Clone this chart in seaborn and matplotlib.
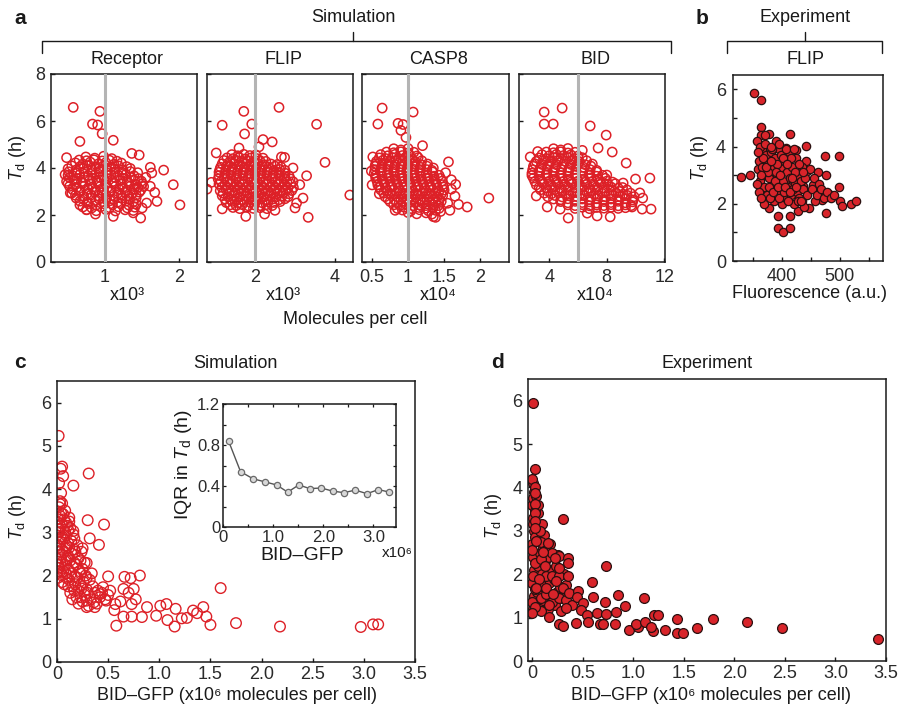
import matplotlib
matplotlib.use("Agg")
import matplotlib.pyplot as plt
import seaborn as sns
from matplotlib.lines import Line2D
from matplotlib.ticker import FixedLocator

# ---------------- DATA ----------------
# Panel a: simulation, Td (h) vs molecules per cell
receptor_pts = [
    (0.74,4.47),(0.86,4.42),(0.98,4.5),(1.09,4.4),
    (0.6,4.22),(0.7,4.17),(0.8,4.25),(0.91,4.18),(1.01,4.23),(1.12,4.16),(1.22,4.21),
    (0.5,3.97),(0.61,3.92),(0.71,3.99),(0.82,3.93),(0.92,3.98),(1.03,3.91),(1.13,3.96),(1.24,3.93),(1.34,3.98),
    (0.46,3.72),(0.56,3.67),(0.66,3.73),(0.77,3.68),(0.87,3.74),(0.97,3.66),(1.08,3.72),(1.18,3.69),(1.28,3.73),(1.39,3.67),
    (0.48,3.43),(0.58,3.48),(0.68,3.42),(0.79,3.47),(0.89,3.44),(0.99,3.49),(1.1,3.42),(1.2,3.47),(1.3,3.43),(1.4,3.48),(1.49,3.44),
    (0.52,3.22),(0.62,3.17),(0.72,3.23),(0.83,3.18),(0.93,3.21),(1.03,3.16),(1.14,3.22),(1.24,3.18),(1.34,3.23),(1.44,3.17),(1.52,3.21),
    (0.55,2.93),(0.66,2.98),(0.76,2.92),(0.86,2.97),(0.96,2.94),(1.07,2.99),(1.17,2.92),(1.27,2.96),(1.37,2.93),(1.46,2.97),
    (0.61,2.72),(0.71,2.67),(0.81,2.73),(0.92,2.68),(1.02,2.71),(1.12,2.66),(1.23,2.72),(1.33,2.68),(1.42,2.73),
    (0.66,2.43),(0.77,2.48),(0.88,2.42),(0.99,2.47),(1.1,2.44),(1.21,2.48),(1.32,2.42),(1.42,2.46),
    (0.75,2.22),(0.88,2.18),(1.01,2.23),(1.14,2.17),(1.27,2.22),(1.38,2.19),
    (0.65,4.34),(0.75,4.31),(0.85,4.35),(0.96,4.3),(1.06,4.33),(1.16,4.29),
    (0.55,4.09),(0.66,4.06),(0.76,4.1),(0.87,4.05),(0.97,4.08),(1.08,4.04),(1.18,4.09),(1.29,4.06),
    (0.51,3.84),(0.61,3.8),(0.72,3.85),(0.82,3.81),(0.92,3.86),(1.02,3.8),(1.13,3.84),(1.23,3.81),(1.34,3.85),(1.44,3.8),
    (0.52,3.59),(0.62,3.55),(0.72,3.6),(0.83,3.56),(0.93,3.61),(1.03,3.55),(1.14,3.59),(1.24,3.56),(1.35,3.6),(1.45,3.55),
    (0.5,3.34),(0.6,3.3),(0.7,3.35),(0.81,3.31),(0.91,3.36),(1.01,3.3),(1.12,3.34),(1.22,3.31),(1.32,3.35),(1.42,3.3),(1.5,3.33),
    (0.56,3.09),(0.66,3.05),(0.77,3.1),(0.87,3.06),(0.98,3.11),(1.08,3.05),(1.19,3.09),(1.29,3.06),(1.39,3.1),(1.48,3.05),
    (0.6,2.84),(0.71,2.8),(0.81,2.85),(0.91,2.81),(1.01,2.86),(1.12,2.8),(1.22,2.84),(1.32,2.81),(1.42,2.85),
    (0.66,2.59),(0.76,2.55),(0.87,2.6),(0.97,2.56),(1.07,2.61),(1.17,2.55),(1.28,2.59),(1.38,2.56),
    (0.7,2.34),(0.82,2.3),(0.94,2.35),(1.06,2.31),(1.18,2.35),(1.3,2.3),(1.4,2.33),
    (0.57,6.58),(0.93,6.41),(0.83,5.87),(0.9,5.83),(0.96,5.46),(1.11,5.18),(0.66,5.13),
    (0.48,4.44),(1.36,4.62),(1.46,4.55),(1.79,3.91),(1.61,4.03),(1.63,3.79),(1.92,3.29),
    (2.01,2.43),(1.48,1.87),(1.11,1.94),(0.87,2.04),(1.67,2.96),(1.7,2.58),(0.5,3.69),
    (0.53,2.94),(0.75,2.23),(1.38,2.09),(1.56,2.51),(1.61,3.22),(1.55,3.6),(1.5,2.3),
]
flip_pts = [
    (1.42,4.57),(1.57,4.52),(1.72,4.58),(1.87,4.53),(2.02,4.56),
    (1.22,4.32),(1.37,4.27),(1.52,4.33),(1.67,4.28),(1.82,4.31),(1.97,4.26),(2.12,4.32),(2.27,4.28),
    (1.14,4.03),(1.29,4.08),(1.44,4.02),(1.59,4.07),(1.74,4.04),(1.89,4.09),(2.04,4.02),(2.19,4.06),(2.34,4.03),(2.5,4.08),(2.65,4.04),
    (1.1,3.82),(1.25,3.77),(1.4,3.83),(1.55,3.78),(1.7,3.81),(1.85,3.76),(2.0,3.82),(2.15,3.78),(2.3,3.83),(2.45,3.77),(2.6,3.81),(2.75,3.78),
    (1.08,3.53),(1.23,3.58),(1.38,3.52),(1.53,3.57),(1.68,3.54),(1.83,3.59),(1.98,3.52),(2.13,3.56),(2.28,3.53),(2.43,3.58),(2.58,3.52),(2.73,3.57),(2.88,3.54),
    (1.1,3.32),(1.25,3.27),(1.4,3.33),(1.55,3.28),(1.7,3.31),(1.85,3.26),(2.0,3.32),(2.15,3.28),(2.3,3.33),(2.45,3.27),(2.6,3.31),(2.75,3.28),(2.9,3.32),
    (1.13,3.03),(1.28,3.08),(1.43,3.02),(1.58,3.07),(1.73,3.04),(1.88,3.09),(2.03,3.02),(2.18,3.06),(2.33,3.03),(2.48,3.08),(2.63,3.02),(2.78,3.07),(2.92,3.04),
    (1.18,2.82),(1.33,2.77),(1.48,2.83),(1.63,2.78),(1.78,2.81),(1.93,2.76),(2.08,2.82),(2.23,2.78),(2.38,2.83),(2.53,2.77),(2.68,2.81),(2.83,2.78),
    (1.28,2.53),(1.43,2.58),(1.58,2.52),(1.73,2.57),(1.88,2.54),(2.03,2.59),(2.18,2.52),(2.33,2.56),(2.48,2.53),(2.63,2.57),
    (1.45,2.32),(1.62,2.27),(1.79,2.33),(1.96,2.28),(2.13,2.31),(2.3,2.27),
    (1.3,4.43),(1.45,4.4),(1.6,4.44),(1.75,4.39),(1.9,4.43),(2.05,4.4),(2.2,4.42),
    (1.18,4.18),(1.33,4.15),(1.48,4.19),(1.63,4.14),(1.78,4.18),(1.93,4.15),(2.08,4.19),(2.23,4.14),(2.4,4.17),(2.56,4.15),
    (1.12,3.93),(1.27,3.9),(1.42,3.94),(1.57,3.89),(1.72,3.93),(1.87,3.9),(2.02,3.94),(2.17,3.89),(2.32,3.93),(2.47,3.9),(2.62,3.94),(2.75,3.9),
    (1.1,3.68),(1.25,3.65),(1.4,3.69),(1.55,3.64),(1.7,3.68),(1.85,3.65),(2.0,3.69),(2.15,3.64),(2.3,3.68),(2.45,3.65),(2.6,3.69),(2.75,3.64),(2.85,3.67),
    (1.15,3.43),(1.3,3.4),(1.45,3.44),(1.6,3.39),(1.75,3.43),(1.9,3.4),(2.05,3.44),(2.2,3.39),(2.35,3.43),(2.5,3.4),(2.65,3.44),(2.8,3.39),(2.95,3.42),
    (1.17,3.18),(1.32,3.15),(1.47,3.19),(1.62,3.14),(1.77,3.18),(1.92,3.15),(2.07,3.19),(2.22,3.14),(2.37,3.18),(2.52,3.15),(2.67,3.19),(2.82,3.14),(2.96,3.17),
    (1.2,2.93),(1.35,2.9),(1.5,2.94),(1.65,2.89),(1.8,2.93),(1.95,2.9),(2.1,2.94),(2.25,2.89),(2.4,2.93),(2.55,2.9),(2.7,2.94),(2.85,2.9),
    (1.25,2.68),(1.4,2.65),(1.55,2.69),(1.7,2.64),(1.85,2.68),(2.0,2.65),(2.15,2.69),(2.3,2.64),(2.45,2.68),(2.6,2.65),(2.75,2.69),
    (1.38,2.43),(1.53,2.4),(1.68,2.44),(1.83,2.39),(1.98,2.43),(2.13,2.4),(2.28,2.44),(2.43,2.4),
    (1.72,6.41),(2.6,6.58),(1.18,5.82),(1.92,5.87),(1.74,5.45),(2.2,5.21),(2.43,5.11),
    (3.54,5.86),(3.75,4.24),(4.37,2.85),(0.8,3.1),(0.91,3.39),(3.33,1.9),(3.2,2.72),
    (3.29,3.67),(3.04,2.51),(2.66,4.47),(2.74,4.45),(1.18,2.26),(2.24,2.04),(1.77,1.94),
    (1.03,4.64),(2.95,4.0),(3.12,3.29),(1.6,4.85),(2.1,4.9),(3.0,2.3),(2.5,2.2),
]
casp8_pts = [
    (0.8,4.82),(0.9,4.77),(1.0,4.83),
    (0.62,4.57),(0.72,4.52),(0.82,4.58),(0.92,4.53),(1.02,4.56),(1.12,4.51),
    (0.56,4.28),(0.65,4.33),(0.74,4.27),(0.83,4.32),(0.92,4.29),(1.01,4.34),(1.1,4.27),(1.19,4.31),
    (0.54,4.07),(0.63,4.02),(0.72,4.08),(0.81,4.03),(0.9,4.06),(0.99,4.01),(1.08,4.07),(1.17,4.03),(1.26,4.08),
    (0.53,3.78),(0.62,3.83),(0.71,3.77),(0.8,3.82),(0.89,3.79),(0.98,3.84),(1.07,3.77),(1.16,3.81),(1.25,3.78),(1.34,3.83),
    (0.55,3.57),(0.64,3.52),(0.73,3.58),(0.82,3.53),(0.91,3.56),(1.0,3.51),(1.09,3.57),(1.18,3.53),(1.27,3.58),(1.36,3.52),(1.45,3.56),
    (0.58,3.28),(0.67,3.33),(0.76,3.27),(0.85,3.32),(0.94,3.29),(1.03,3.34),(1.12,3.27),(1.21,3.31),(1.3,3.28),(1.39,3.33),(1.48,3.29),
    (0.62,3.07),(0.71,3.02),(0.8,3.08),(0.89,3.03),(0.98,3.06),(1.07,3.01),(1.16,3.07),(1.25,3.03),(1.34,3.08),(1.43,3.02),(1.5,3.06),
    (0.68,2.78),(0.77,2.83),(0.86,2.77),(0.95,2.82),(1.04,2.79),(1.13,2.84),(1.22,2.77),(1.31,2.81),(1.4,2.78),(1.48,2.83),
    (0.75,2.57),(0.84,2.52),(0.93,2.58),(1.02,2.53),(1.11,2.56),(1.2,2.51),(1.29,2.57),(1.38,2.53),(1.46,2.58),
    (0.85,2.28),(0.95,2.33),(1.05,2.27),(1.15,2.32),(1.25,2.29),(1.35,2.33),(1.43,2.28),
    (1.0,2.1),(1.12,2.05),(1.25,2.09),(1.33,2.04),
    (0.7,4.68),(0.8,4.65),(0.9,4.69),(1.0,4.64),(1.08,4.67),
    (0.6,4.43),(0.69,4.4),(0.78,4.44),(0.87,4.39),(0.96,4.43),(1.05,4.4),(1.14,4.44),
    (0.55,4.18),(0.64,4.15),(0.73,4.19),(0.82,4.14),(0.91,4.18),(1.0,4.15),(1.09,4.19),(1.18,4.14),(1.27,4.17),
    (0.54,3.93),(0.63,3.9),(0.72,3.94),(0.81,3.89),(0.9,3.93),(0.99,3.9),(1.08,3.94),(1.17,3.89),(1.26,3.93),(1.33,3.9),
    (0.55,3.68),(0.64,3.65),(0.73,3.69),(0.82,3.64),(0.91,3.68),(1.0,3.65),(1.09,3.69),(1.18,3.64),(1.27,3.68),(1.36,3.65),(1.43,3.69),
    (0.57,3.43),(0.66,3.4),(0.75,3.44),(0.84,3.39),(0.93,3.43),(1.02,3.4),(1.11,3.44),(1.2,3.39),(1.29,3.43),(1.38,3.4),(1.47,3.44),
    (0.6,3.18),(0.69,3.15),(0.78,3.19),(0.87,3.14),(0.96,3.18),(1.05,3.15),(1.14,3.19),(1.23,3.14),(1.32,3.18),(1.41,3.15),(1.49,3.19),
    (0.66,2.93),(0.75,2.9),(0.84,2.94),(0.93,2.89),(1.02,2.93),(1.11,2.9),(1.2,2.94),(1.29,2.89),(1.38,2.93),(1.46,2.9),
    (0.72,2.68),(0.81,2.65),(0.9,2.69),(0.99,2.64),(1.08,2.68),(1.17,2.65),(1.26,2.69),(1.35,2.64),(1.43,2.68),
    (0.8,2.43),(0.89,2.4),(0.98,2.44),(1.07,2.39),(1.16,2.43),(1.25,2.4),(1.34,2.44),(1.42,2.4),
    (0.92,2.21),(1.04,2.18),(1.16,2.22),(1.28,2.18),(1.38,2.2),
    (0.64,6.55),(1.07,6.38),(0.58,5.87),(0.86,5.9),(0.93,5.85),(0.9,5.6),(0.97,5.3),
    (1.2,4.95),(0.49,3.87),(0.5,3.28),(0.51,4.47),(0.82,2.2),(1.35,1.93),(1.38,1.9),
    (1.56,4.26),(2.12,2.72),(1.82,2.34),(1.6,3.1),(1.65,2.8),(1.55,2.5),(1.7,2.45),
    (1.45,2.15),(1.6,3.5),(1.52,3.8),(1.35,4.0),(0.6,2.9),(1.58,2.2),(1.66,3.3),
]
bid_pts = [
    (4.3,4.82),(4.8,4.77),(5.3,4.83),
    (3.5,4.57),(4.0,4.52),(4.5,4.58),(5.0,4.53),(5.5,4.56),(6.0,4.51),
    (3.1,4.28),(3.6,4.33),(4.1,4.27),(4.6,4.32),(5.1,4.29),(5.6,4.34),(6.1,4.27),(6.6,4.31),
    (2.9,4.07),(3.4,4.02),(3.9,4.08),(4.4,4.03),(4.9,4.06),(5.4,4.01),(5.9,4.07),(6.4,4.03),(6.9,4.08),
    (2.8,3.78),(3.3,3.83),(3.8,3.77),(4.3,3.82),(4.8,3.79),(5.3,3.84),(5.8,3.77),(6.3,3.81),(6.8,3.78),(7.3,3.83),
    (2.9,3.57),(3.4,3.52),(3.9,3.58),(4.4,3.53),(4.9,3.56),(5.4,3.51),(5.9,3.57),(6.4,3.53),(6.9,3.58),(7.4,3.52),(7.9,3.56),
    (3.1,3.28),(3.6,3.33),(4.1,3.27),(4.6,3.32),(5.1,3.29),(5.6,3.34),(6.1,3.27),(6.6,3.31),(7.1,3.28),(7.6,3.33),(8.1,3.29),(8.6,3.33),
    (3.4,3.07),(3.9,3.02),(4.4,3.08),(4.9,3.03),(5.4,3.06),(5.9,3.01),(6.4,3.07),(6.9,3.03),(7.4,3.08),(7.9,3.02),(8.4,3.06),(8.9,3.01),(9.4,3.07),
    (3.9,2.78),(4.4,2.83),(4.9,2.77),(5.4,2.82),(5.9,2.79),(6.4,2.84),(6.9,2.77),(7.4,2.81),(7.9,2.78),(8.4,2.83),(8.9,2.79),(9.4,2.84),(9.9,2.78),
    (4.8,2.57),(5.3,2.52),(5.8,2.58),(6.3,2.53),(6.8,2.56),(7.3,2.51),(7.8,2.57),(8.3,2.53),(8.8,2.58),(9.3,2.52),(9.8,2.56),
    (5.8,2.28),(6.3,2.33),(6.8,2.27),(7.3,2.32),(7.8,2.29),(8.3,2.33),(8.8,2.28),(9.3,2.31),
    (3.8,4.68),(4.3,4.65),(4.8,4.69),(5.3,4.64),(5.8,4.67),
    (3.3,4.43),(3.8,4.4),(4.3,4.44),(4.8,4.39),(5.3,4.43),(5.8,4.4),(6.3,4.44),
    (3.0,4.18),(3.5,4.15),(4.0,4.19),(4.5,4.14),(5.0,4.18),(5.5,4.15),(6.0,4.19),(6.5,4.14),(7.0,4.17),
    (2.85,3.93),(3.35,3.9),(3.85,3.94),(4.35,3.89),(4.85,3.93),(5.35,3.9),(5.85,3.94),(6.35,3.89),(6.85,3.93),(7.3,3.9),
    (2.8,3.68),(3.3,3.65),(3.8,3.69),(4.3,3.64),(4.8,3.68),(5.3,3.65),(5.8,3.69),(6.3,3.64),(6.8,3.68),(7.3,3.65),(7.7,3.69),
    (3.0,3.43),(3.5,3.4),(4.0,3.44),(4.5,3.39),(5.0,3.43),(5.5,3.4),(6.0,3.44),(6.5,3.39),(7.0,3.43),(7.5,3.4),(8.0,3.44),(8.4,3.4),
    (3.3,3.18),(3.8,3.15),(4.3,3.19),(4.8,3.14),(5.3,3.18),(5.8,3.15),(6.3,3.19),(6.8,3.14),(7.3,3.18),(7.8,3.15),(8.3,3.19),(8.8,3.14),(9.1,3.17),
    (3.65,2.93),(4.15,2.9),(4.65,2.94),(5.15,2.89),(5.65,2.93),(6.15,2.9),(6.65,2.94),(7.15,2.89),(7.65,2.93),(8.15,2.9),(8.65,2.94),(9.15,2.89),(9.65,2.93),
    (4.3,2.68),(4.8,2.65),(5.3,2.69),(5.8,2.64),(6.3,2.68),(6.8,2.65),(7.3,2.69),(7.8,2.64),(8.3,2.68),(8.8,2.65),(9.3,2.69),(9.8,2.64),
    (5.3,2.43),(5.8,2.4),(6.3,2.44),(6.8,2.39),(7.3,2.43),(7.8,2.4),(8.3,2.44),(8.8,2.39),(9.3,2.43),(9.7,2.4),
    (3.65,6.38),(4.9,6.55),(3.65,5.87),(4.28,5.87),(6.85,5.79),(7.96,5.4),(8.38,4.68),
    (7.4,4.85),(9.35,4.21),(11.0,3.57),(10.0,3.53),(2.68,4.47),(3.1,2.81),(3.86,2.34),
    (5.32,1.87),(7.33,1.96),(8.24,1.92),(11.08,2.25),(10.46,2.25),(10.5,2.72),(10.3,2.94),
    (9.76,2.34),(9.14,3.36),(4.76,2.25),(6.64,2.08),(3.2,4.7),(6.3,4.75),(8.0,3.7),
]
# Panel b: experiment, Td (h) vs FLIP fluorescence (a.u.)
flip_exp_pts = [
    (351,5.86),(364,5.61),(364,4.69),(364,4.42),(377,4.43),(413,4.43),(442,4.01),
    (390,4.19),(357,4.19),(406,3.95),(425,3.89),(474,3.68),(499,3.68),(329,2.92),
    (345,3.02),(442,3.49),(443,3.16),(462,3.1),(477,3.02),(498,2.58),(482,2.34),
    (500,2.08),(504,1.91),(519,2.0),(529,2.08),(477,1.67),(446,1.85),(393,1.58),
    (414,1.58),(393,1.17),(401,1.01),(414,1.17),(427,1.75),(377,1.85),(469,2.14),
    (457,2.08),(434,2.08),(420,2.37),(437,2.61),(454,2.67),(466,2.44),
    (358,3.2),(360,3.5),(362,2.8),(365,3.9),(366,3.3),(368,2.6),(370,3.0),(372,3.7),
    (374,2.3),(376,3.4),(378,2.9),(380,3.8),(382,2.5),(384,3.2),(386,2.1),(388,3.6),
    (390,2.7),(392,3.0),(394,3.9),(396,2.4),(398,3.3),(400,2.0),(402,2.8),(404,3.5),
    (406,2.2),(408,3.1),(410,2.6),(412,3.8),(414,2.9),(416,2.3),(418,3.3),(420,2.0),
    (422,2.7),(424,3.6),(426,2.4),(428,3.0),(430,2.2),(432,2.8),(434,3.3),(436,2.5),
    (438,1.9),(440,2.9),(444,2.3),(448,3.2),(452,2.5),(456,2.9),(460,2.3),(464,2.7),
    (468,2.5),(472,2.2),(478,2.4),(484,2.2),(490,2.3),(362,4.0),(367,3.6),(371,4.1),
    (375,3.1),(379,2.2),(383,3.9),(387,2.8),(391,3.4),(395,2.2),(399,3.7),(403,2.4),
    (407,3.9),(411,2.1),(415,3.6),(419,2.5),(423,3.1),(427,2.1),(360,2.4),(363,3.0),
    (369,2.0),(373,3.3),(377,2.6),(381,3.5),(385,2.4),(389,3.1),(393,2.6),(397,3.0),
    (401,3.6),(405,2.6),(409,3.4),(413,2.4),(417,2.9),(421,3.9),(425,2.6),(429,3.4),
    (433,2.1),(437,3.1),(356,2.7),(359,3.8),(364,2.2),(370,4.4),(380,4.0),(395,4.1),
]
# Panel c: simulation, Td (h) vs BID-GFP (x1e6 molecules per cell)
sim_bid_pts = [
    (0.01,1.95),(0.03,2.1),(0.01,2.25),(0.04,2.4),(0.02,2.55),(0.01,2.7),(0.04,2.85),
    (0.02,3.0),(0.03,3.15),(0.01,3.3),(0.04,3.45),(0.02,3.58),
    (0.07,1.8),(0.09,1.95),(0.06,2.1),(0.08,2.25),(0.1,2.4),(0.07,2.55),(0.09,2.7),
    (0.06,2.85),(0.08,3.0),(0.1,3.15),(0.07,3.3),(0.06,3.42),
    (0.13,1.6),(0.15,1.75),(0.12,1.9),(0.14,2.05),(0.16,2.2),(0.13,2.35),(0.15,2.5),
    (0.12,2.65),(0.14,2.8),(0.16,2.95),(0.13,3.1),(0.12,3.25),
    (0.19,1.5),(0.21,1.65),(0.18,1.8),(0.2,1.95),(0.22,2.1),(0.19,2.25),(0.21,2.4),
    (0.18,2.55),(0.2,2.7),
    (0.25,1.4),(0.27,1.55),(0.24,1.7),(0.26,1.85),(0.28,2.0),(0.25,2.15),(0.27,2.3),(0.24,2.55),
    (0.31,1.3),(0.33,1.45),(0.3,1.6),(0.35,1.75),(0.32,1.9),(0.34,2.05),
    (0.39,1.35),(0.42,1.5),(0.44,1.6),(0.47,1.45),(0.4,1.65),(0.5,1.55),
    (0.0,2.05),(0.02,2.18),(0.0,2.33),(0.03,2.48),(0.0,2.63),(0.03,2.78),(0.0,2.93),
    (0.02,3.08),(0.0,3.23),(0.03,3.38),(0.05,2.0),(0.05,2.3),(0.05,2.6),(0.05,2.9),
    (0.05,3.2),(0.09,2.05),(0.09,2.35),(0.09,2.63),(0.09,2.93),(0.09,3.22),(0.11,1.75),
    (0.11,2.15),(0.11,2.45),(0.11,2.75),(0.11,3.05),(0.17,1.65),(0.17,1.98),(0.17,2.3),
    (0.17,2.6),(0.17,2.85),(0.23,1.5),(0.23,1.78),(0.23,2.05),(0.23,2.35),(0.29,1.42),
    (0.29,1.68),(0.29,1.95),(0.36,1.38),(0.37,1.6),(0.05,1.85),(0.15,1.45),(0.21,1.35),
    (0.08,3.5),(0.03,3.65),
    (0.016,5.23),(0.036,4.47),(0.05,4.52),(0.06,4.3),(0.02,4.14),(0.16,4.08),(0.31,4.36),
    (0.04,3.91),(0.03,3.72),(0.05,3.67),(0.3,3.28),(0.46,3.18),(0.32,2.86),(0.41,2.71),
    (0.25,2.63),(0.16,3.03),(0.12,3.34),(0.29,2.29),(0.5,1.98),(0.66,1.97),(0.72,1.94),
    (0.81,2.0),(0.65,1.69),(0.75,1.69),(0.73,1.34),(1.6,1.71),(0.57,1.34),(0.58,0.84),
    (0.65,1.05),(0.73,1.05),(0.83,1.04),(0.88,1.27),(0.97,1.07),(1.01,1.3),(1.07,1.34),
    (1.08,0.97),(1.16,1.23),(1.15,0.82),(1.22,1.01),(1.27,1.02),(1.33,1.19),(1.37,1.13),
    (1.43,1.27),(1.46,1.05),(1.5,0.86),(1.75,0.9),(2.18,0.82),(2.97,0.81),(3.09,0.87),
    (3.14,0.87),(0.37,1.27),(0.29,1.27),(0.42,1.57),(0.52,1.65),(0.45,1.73),(0.48,1.42),
    (0.7,1.6),(0.77,1.45),(0.62,1.4),(0.56,1.2),
]
# inset of panel c: IQR in Td vs BID-GFP
iqr_x = [0.11, 0.35, 0.6, 0.84, 1.07, 1.29, 1.51, 1.73, 1.96, 2.19, 2.41, 2.64, 2.87, 3.1, 3.32]
iqr_y = [0.84, 0.54, 0.47, 0.44, 0.41, 0.34, 0.41, 0.375, 0.38, 0.35, 0.335, 0.36, 0.325, 0.365, 0.34]
# Panel d: experiment, Td (h) vs BID-GFP (x1e6 molecules per cell)
exp_bid_pts = [
    (0.01,1.2),(0.02,1.5),(0.0,1.8),(0.02,2.1),(0.01,2.4),(0.0,2.7),(0.02,3.0),(0.01,3.3),
    (0.0,3.6),(0.02,3.9),(0.01,4.1),
    (0.06,1.3),(0.05,1.6),(0.07,1.9),(0.06,2.2),(0.08,2.5),(0.05,2.8),(0.07,3.1),(0.06,3.4),
    (0.11,1.4),(0.12,1.7),(0.1,2.0),(0.13,2.3),(0.11,2.6),(0.12,2.9),(0.1,3.15),
    (0.16,1.2),(0.18,1.5),(0.17,1.8),(0.19,2.1),(0.16,2.4),(0.18,2.7),
    (0.23,1.3),(0.25,1.6),(0.22,1.9),(0.24,2.2),(0.26,2.45),
    (0.29,1.15),(0.3,1.45),(0.28,1.7),(0.32,2.0),
    (0.0,1.35),(0.03,1.65),(0.01,1.95),(0.03,2.25),(0.0,2.55),(0.03,2.85),(0.01,3.15),
    (0.03,3.45),(0.01,3.75),(0.09,1.15),(0.09,1.45),(0.09,1.75),(0.09,2.35),(0.09,2.75),
    (0.14,1.55),(0.14,1.95),(0.14,2.55),(0.2,1.35),(0.2,1.95),(0.2,2.5),(0.27,1.45),
    (0.27,1.95),(0.34,1.4),(0.34,1.75),(0.4,1.3),(0.42,1.55),(0.06,3.6),(0.04,3.8),(0.08,3.0),
    (0.01,5.95),(0.03,4.43),(0.0,4.19),(0.03,4.02),(0.03,3.87),(0.03,3.62),(0.03,3.41),
    (0.31,3.28),(0.03,3.22),(0.03,3.06),(0.04,2.77),(0.16,2.73),(0.11,2.52),(0.27,2.41),
    (0.36,2.37),(0.36,2.25),(0.23,2.37),(0.27,2.15),(0.13,2.18),(0.73,2.18),(0.36,1.97),
    (0.24,1.85),(0.07,1.88),(0.59,1.82),(0.14,1.68),(0.04,1.68),(0.31,1.68),(0.37,1.56),
    (0.45,1.62),(0.21,1.54),(0.44,1.47),(0.6,1.47),(0.72,1.37),(0.85,1.51),(1.11,1.46),
    (0.92,1.27),(0.5,1.33),(0.17,1.28),(0.03,1.25),(0.0,1.1),(0.17,1.02),(0.34,1.22),
    (0.48,1.18),(0.54,1.06),(0.64,1.1),(0.73,1.08),(0.83,1.12),(0.27,0.85),(0.31,0.81),
    (0.43,0.87),(0.55,0.91),(0.67,0.85),(0.7,0.85),(0.82,0.85),(0.96,0.72),(1.05,0.78),
    (1.03,0.85),(1.12,0.91),(1.2,0.68),(1.18,0.78),(1.21,1.06),(1.25,1.06),(1.31,0.72),
    (1.43,0.96),(1.43,0.65),(1.49,0.65),(1.63,0.77),(1.79,0.96),(2.13,0.91),(2.47,0.77),
    (3.42,0.51),
]

panel_a_names = ["Receptor", "FLIP", "CASP8", "BID"]
panel_a_data = [receptor_pts, flip_pts, casp8_pts, bid_pts]
panel_a_xlim = [(0.27, 2.24), (0.8, 4.45), (0.36, 2.4), (1.9, 12.05)]
panel_a_xticks = [[1, 2], [2, 4], [0.5, 1, 1.5, 2], [4, 8, 12]]
panel_a_xticklabels = [["1", "2"], ["2", "4"], ["0.5", "1", "1.5", "2"], ["4", "8", "12"]]
panel_a_mean = [1, 2, 1, 6]
panel_a_scale = ["x10\u00b3", "x10\u00b3", "x10\u2074", "x10\u2074"]

# ---------------- STYLE ----------------
sns.set_style("ticks")
plt.rcParams.update({
    "font.family": ["Liberation Sans", "DejaVu Sans"],
    "mathtext.fontset": "custom",
    "mathtext.rm": "Liberation Sans",
    "mathtext.it": "Liberation Sans:italic",
    "mathtext.bf": "Liberation Sans:bold",
    "xtick.direction": "in",
    "ytick.direction": "in",
    "axes.edgecolor": "#1a1a1a",
    "axes.linewidth": 1.1,
    "xtick.color": "#1a1a1a",
    "ytick.color": "#1a1a1a",
    "text.color": "#1a1a1a",
    "xtick.labelcolor": "#2a2a2a",
    "ytick.labelcolor": "#2a2a2a",
})

RED = "#dd2027"
FILL = "#d8242a"
GRAY = "#b4b4b4"
W, H = 898, 705
fig = plt.figure(figsize=(W / 100, H / 100), dpi=100)


def add_ax(l, r, t, b):
    return fig.add_axes([l / W, 1 - b / H, (r - l) / W, (b - t) / H])


def ftext(x, y, s, size=13, **kw):
    kw.setdefault("ha", "center")
    kw.setdefault("va", "center")
    fig.text(x / W, 1 - y / H, s, fontsize=size, **kw)


def fline(xs, ys):
    fig.add_artist(Line2D([x / W for x in xs], [1 - y / H for y in ys],
                          transform=fig.transFigure, color="#1a1a1a", lw=1.0))


def style_ticks(ax, size=13, length=3.2, pad=4):
    ax.tick_params(axis="both", which="major", length=length, width=1.0,
                   labelsize=size, pad=pad, top=False, right=False)
    ax.tick_params(axis="both", which="minor", length=length * 0.8, width=1.0,
                   top=False, right=False)


TD = r"$T_{\mathrm{d}}$ (h)"

# ---------------- PANEL a ----------------
lefts = [(51, 197), (207, 353), (362, 509), (519, 665)]
for i, (l, r) in enumerate(lefts):
    ax = add_ax(l, r, 74, 262)
    pts = panel_a_data[i]
    xs = [p[0] for p in pts]
    ys = [p[1] for p in pts]
    sns.scatterplot(x=xs, y=ys, ax=ax, s=44, facecolor="none", edgecolor=RED,
                    linewidth=1.1, zorder=2)
    ax.axvline(panel_a_mean[i], color=GRAY, lw=2.2, zorder=3)
    ax.set_xlim(*panel_a_xlim[i])
    ax.set_ylim(0, 8)
    ax.xaxis.set_major_locator(FixedLocator(panel_a_xticks[i]))
    ax.set_xticklabels(panel_a_xticklabels[i])
    ax.yaxis.set_major_locator(FixedLocator([0, 2, 4, 6, 8]))
    if i == 0:
        ax.set_yticklabels(["0", "2", "4", "6", "8"])
    else:
        ax.set_yticklabels([])
    style_ticks(ax, pad=5)
    ax.tick_params(axis="y", pad=4)
    ax.set_xlabel("")
    ax.set_ylabel("")
    c = (l + r) / 2
    ftext(c + 3, 60, panel_a_names[i])
    ftext(c + 3, 296, panel_a_scale[i])

ftext(20, 18, "a", size=15, fontweight="bold")
ftext(353, 18, "Simulation")
fline([42, 42, 671, 671], [53, 41, 41, 53])
fline([353, 353], [41, 32])
ftext(355, 319, "Molecules per cell")
ftext(17, 158, TD, rotation=90)

# ---------------- PANEL b ----------------
axb = add_ax(733, 883, 75, 261)
bx = [p[0] for p in flip_exp_pts]
by = [p[1] for p in flip_exp_pts]
sns.scatterplot(x=bx, y=by, ax=axb, s=36, color=FILL, edgecolor="#2a1010",
                linewidth=0.9, zorder=2)
axb.set_xlim(315, 575)
axb.set_ylim(0, 6.5)
axb.xaxis.set_major_locator(FixedLocator([400, 500]))
axb.xaxis.set_minor_locator(FixedLocator([350, 450, 550]))
axb.yaxis.set_major_locator(FixedLocator([0, 2, 4, 6]))
axb.yaxis.set_minor_locator(FixedLocator([1, 3, 5]))
style_ticks(axb, pad=5)
axb.set_xlabel("")
axb.set_ylabel("")
ftext(702, 18, "b", size=15, fontweight="bold")
ftext(805, 18, "Experiment")
fline([727, 727, 882, 882], [53, 41, 41, 53])
fline([805, 805], [41, 32])
ftext(806, 60, "FLIP")
ftext(810, 294, "Fluorescence (a.u.)")
ftext(700, 158, TD, rotation=90)

# ---------------- PANEL c ----------------
axc = add_ax(57, 415, 381, 662)
cx = [p[0] for p in sim_bid_pts]
cy = [p[1] for p in sim_bid_pts]
sns.scatterplot(x=cx, y=cy, ax=axc, s=58, facecolor="none", edgecolor=RED,
                linewidth=1.0, zorder=2)
axc.set_xlim(0, 3.5)
axc.set_ylim(0, 6.5)
xt = [0, 0.5, 1.0, 1.5, 2.0, 2.5, 3.0, 3.5]
xtl = ["0", "0.5", "1.0", "1.5", "2.0", "2.5", "3.0", "3.5"]
axc.xaxis.set_major_locator(FixedLocator(xt))
axc.set_xticklabels(xtl)
axc.yaxis.set_major_locator(FixedLocator([0, 1, 2, 3, 4, 5, 6]))
style_ticks(axc, pad=3)
axc.tick_params(axis="y", pad=4)
axc.set_xlabel("")
axc.set_ylabel("")
ftext(20, 363, "c", size=15, fontweight="bold")
ftext(235, 363, "Simulation")
ftext(237, 700, "BID\u2013GFP (x10\u2076 molecules per cell)", va="baseline")
ftext(17, 517, TD, rotation=90)

# inset
axi = add_ax(223, 396, 404, 527)
sns.lineplot(x=iqr_x, y=iqr_y, ax=axi, color="#555555", lw=1.0, marker="o",
             markersize=4.5, markerfacecolor="#d8d8d8", markeredgecolor="#6a6a6a",
             markeredgewidth=0.9, estimator=None)
axi.set_xlim(0, 3.45)
axi.set_ylim(0, 1.2)
axi.xaxis.set_major_locator(FixedLocator([0, 1, 2, 3]))
axi.set_xticklabels(["0", "1.0", "2.0", "3.0"])
axi.xaxis.set_minor_locator(FixedLocator([0.5, 1.5, 2.5]))
axi.yaxis.set_major_locator(FixedLocator([0, 0.4, 0.8, 1.2]))
axi.set_yticklabels(["0", "0.4", "0.8", "1.2"])
axi.yaxis.set_minor_locator(FixedLocator([0.2, 0.6, 1.0]))
axi.tick_params(axis="both", which="both", length=2.5, width=0.9, labelsize=12,
                pad=2, top=True, right=True)
axi.set_xlabel("")
axi.set_ylabel("")
ftext(302, 555, "BID\u2013GFP", size=14)
ftext(397, 553, "x10\u2076", size=11)
ftext(183, 465, r"IQR in $T_{\mathrm{d}}$ (h)", size=14, rotation=90)

# ---------------- PANEL d ----------------
axd = add_ax(528, 886, 379, 661)
dx = [p[0] for p in exp_bid_pts]
dy = [p[1] for p in exp_bid_pts]
sns.scatterplot(x=dx, y=dy, ax=axd, s=50, color=FILL, edgecolor="#2a1010",
                linewidth=0.9, zorder=2)
axd.set_xlim(-0.04, 3.5)
axd.set_ylim(0, 6.5)
axd.xaxis.set_major_locator(FixedLocator(xt))
axd.set_xticklabels(xtl)
axd.yaxis.set_major_locator(FixedLocator([0, 1, 2, 3, 4, 5, 6]))
style_ticks(axd, pad=3)
axd.tick_params(axis="y", pad=4)
axd.set_xlabel("")
axd.set_ylabel("")
ftext(497, 363, "d", size=15, fontweight="bold")
ftext(707, 363, "Experiment")
ftext(711, 700, "BID\u2013GFP (x10\u2076 molecules per cell)", va="baseline")
ftext(494, 516, TD, rotation=90)

fig.savefig("out.png", dpi=100)
